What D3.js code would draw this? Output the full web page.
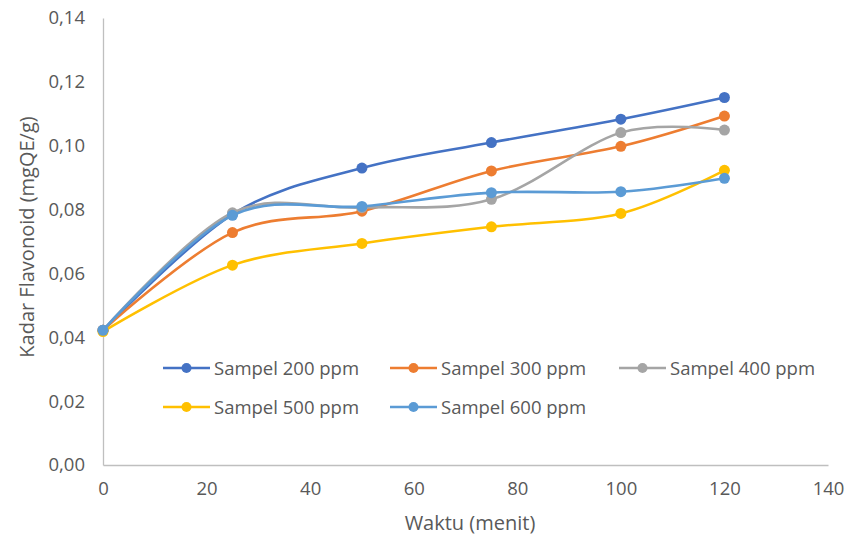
<!DOCTYPE html>
<html><head><meta charset="utf-8">
<script src="https://cdn.jsdelivr.net/npm/d3@7"></script>
<style>body{margin:0;background:#fff}svg{display:block}</style>
</head><body>
<svg id="c" width="855" height="539"></svg>
<script>
const times = [0, 25, 50, 75, 100, 120];
const seriesNames = ["Sampel 200 ppm","Sampel 300 ppm","Sampel 400 ppm","Sampel 500 ppm","Sampel 600 ppm"];
const s200 = [0.0422, 0.0785, 0.0930, 0.1010, 0.1083, 0.1151];
const s300 = [0.0422, 0.0728, 0.0795, 0.0921, 0.0998, 0.1093];
const s400 = [0.0422, 0.0790, 0.0806, 0.0832, 0.1041, 0.1049];
const s500 = [0.0418, 0.0626, 0.0694, 0.0746, 0.0788, 0.0923];
const s600 = [0.0422, 0.0782, 0.0810, 0.0853, 0.0856, 0.0898];
const colors = ["#4472C4","#ED7D31","#A5A5A5","#FFC000","#5B9BD5"];
const xTicks = [0,20,40,60,80,100,120,140];
const yTicks = [0,0.02,0.04,0.06,0.08,0.10,0.12,0.14];

const svg = d3.select("#c");
const x = d3.scaleLinear().domain([0,140]).range([103,828]);
const y = d3.scaleLinear().domain([0,0.14]).range([465,18]);
const font = "'Open Sans', Lato, sans-serif";
const tc = "#595959";

const xa = svg.append("g").attr("transform","translate(0,465)")
  .call(d3.axisBottom(x).tickValues(xTicks).tickSize(0).tickPadding(17).tickFormat(d3.format("d")));
const ya = svg.append("g").attr("transform","translate(103,0)")
  .call(d3.axisLeft(y).tickValues(yTicks).tickSize(0).tickPadding(18).tickFormat(d=>d3.format(".2f")(d).replace(".",",")));
[xa,ya].forEach(a=>{
  a.select(".domain").attr("stroke","#BFBFBF").attr("stroke-width",1.3);
  a.selectAll("text").attr("fill",tc).style("font-family",font).style("font-size","18.5px");
});

svg.append("text").attr("x",470).attr("y",530).attr("text-anchor","middle")
  .attr("fill",tc).style("font-family",font).style("font-size","20px").text("Waktu (menit)");
svg.append("text").attr("transform","translate(34,237) rotate(-90)").attr("text-anchor","middle")
  .attr("fill",tc).style("font-family",font).style("font-size","20px").text("Kadar Flavonoid (mgQE/g)");

const all = [s200,s300,s400,s500,s600];
const line = d3.line().x((d,i)=>x(times[i])).y(d=>y(d)).curve(d3.curveCardinal.tension(0));
all.forEach((s,k)=>{
  svg.append("path").datum(s).attr("d",line).attr("fill","none")
    .attr("stroke",colors[k]).attr("stroke-width",2.6).attr("stroke-linecap","round");
  svg.append("g").selectAll("circle").data(s).join("circle")
    .attr("cx",(d,i)=>x(times[i])).attr("cy",d=>y(d)).attr("r",5.5).attr("fill",colors[k]);
});

const legPos = [[163,368],[390,368],[619,368],[163,407],[390,407]];
seriesNames.forEach((n,k)=>{
  const [lx,ly] = legPos[k];
  const g = svg.append("g");
  g.append("line").attr("x1",lx).attr("x2",lx+47).attr("y1",ly).attr("y2",ly)
    .attr("stroke",colors[k]).attr("stroke-width",2.6);
  g.append("circle").attr("cx",lx+23.5).attr("cy",ly).attr("r",5).attr("fill",colors[k]);
  g.append("text").attr("x",lx+51).attr("y",ly+6.5).attr("fill",tc)
    .style("font-family",font).style("font-size","18.5px").text(n);
});
</script>
</body></html>
